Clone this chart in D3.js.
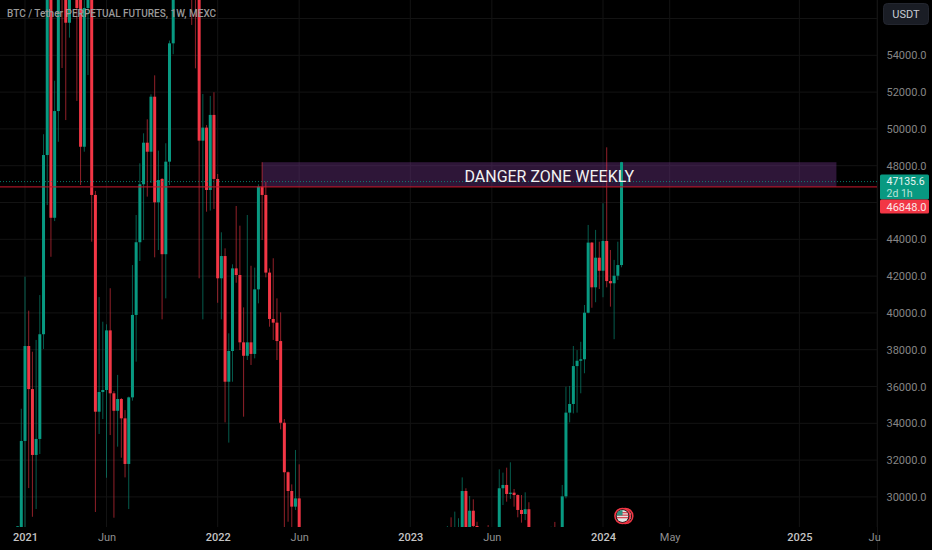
<!DOCTYPE html>
<html><head><meta charset="utf-8">
<script src="https://cdn.jsdelivr.net/npm/d3@7/dist/d3.min.js"></script>
<style>html,body{margin:0;padding:0;background:#000;overflow:hidden}svg{display:block}text{font-family:Roboto,Inter,sans-serif}</style>
</head><body>
<script>
const titleText = "BTC / Tether PERPETUAL FUTURES, 1W, MEXC";
const currency = "USDT";
const weeks = [-2,-1,0,1,2,3,4,5,6,7,8,9,10,11,12,13,14,15,16,17,18,19,20,21,22,23,24,25,26,27,28,29,30,31,32,33,34,35,36,37,38,39,40,
 45,46,47,48,49,50,51,52,53,54,55,56,57,58,59,60,61,62,63,64,65,66,67,68,69,70,71,72,73,74,
 114,115,116,117,118,119,120,121,122,125,128,129,130,131,132,133,134,135,136,142,143,
 145,146,147,148,149,150,151,152,153,154,155,156,157,158,159,160,161];
const opens = [28200,28000,33040,38200,35860,32280,33150,38840,48580,58000,45170,50970,59500,57300,55770,60000,58600,58000,49030,56570,59000,46410,34630,35700,35810,39050,35630,34680,35320,34270,31790,35410,39890,43840,46990,49250,48760,51750,46010,47280,43190,48220,54650,
 63000,58500,57500,49360,50070,46680,50760,47280,41880,43090,36260,37930,42420,42060,38400,37670,38400,37770,41280,46860,46410,42190,39670,39470,38470,34030,31340,30320,29470,29920,
 27000,28100,27000,27500,27800,30320,27700,29250,28420,27600,27000,30470,30650,30160,30230,30100,29290,29070,29330,27000,27800,
 27500,30030,34580,35050,37110,37400,37480,40010,43820,41390,43000,42290,43910,41730,41610,42020,42600];
const highs = [28420,34790,41970,40120,37890,38530,40970,49710,60000,58900,52620,61500,60500,58500,61800,62000,59500,59000,57500,60000,60500,46630,40860,39520,39380,41340,35750,36630,35370,34720,35450,42600,45320,48130,49760,50520,51880,52910,48820,47330,49220,54800,62000,
 64000,60000,58500,51900,50210,51790,51990,47550,44380,43510,38890,42640,45810,44740,40300,45320,42560,42460,46990,48190,47130,42420,42970,40790,40030,34230,31380,30680,32550,31770,
 28420,28890,29200,28840,31060,30470,30050,29870,28650,28470,31500,31320,31590,31880,30430,30140,30100,30250,29710,28380,28640,
 30650,35990,36030,38200,37980,38430,40430,44780,43850,44510,43870,45960,49000,43420,42880,43870,48210];
const lows = [27000,27500,28300,30480,28920,29340,32330,38040,45860,43050,44990,49300,53310,50480,54960,57400,51520,46950,48760,52930,43870,29180,33420,34230,31040,33360,28870,32730,32130,31060,29340,35230,37350,42820,43960,46320,47060,43020,43420,39650,40790,46950,54060,
 55650,53290,41880,39650,45500,45560,45650,40550,39650,34050,32950,36260,41640,37980,34360,37440,37170,37530,40520,43960,41930,39250,38530,37440,33670,28300,28650,28300,29290,25500,
 26500,26500,26500,27000,26600,27000,27000,27200,27000,26500,26500,29560,29740,29890,29470,28890,28600,28740,26500,26800,26800,
 27000,29920,34050,34540,34580,35630,36720,39980,40280,40580,41300,40850,41390,40340,38570,41790,42480];
const closes = [28400,33040,38200,35860,32280,33150,38840,48580,58000,45170,50970,59500,57300,55770,60000,58000,56570,49030,56570,59000,46410,34630,35700,35810,39050,35630,34680,35320,34270,31790,35410,39890,43840,46990,49250,48760,51750,46010,47220,43190,48220,54650,60000,
 58500,57500,49360,50070,46680,50760,47280,41880,43090,36260,37930,42420,42060,38400,37670,38400,37770,41280,46860,46410,42190,39670,39470,38470,34030,31340,30320,29470,29920,26000,
 28100,27000,28000,28200,30320,27700,29250,28420,27900,27000,30470,30650,30160,30230,30100,29290,29070,29330,27000,27800,27300,
 30030,34580,35050,37110,37400,37480,40010,43820,41390,43000,42290,43910,41730,41610,42020,42600,48190];

const gridPrices = [28000,30000,32000,34000,36000,38000,40000,42000,44000,46000,48000,50000,52000,54000,56000];
const priceTicks = [30000,32000,34000,36000,38000,40000,42000,44000,48000,50000,52000,54000];
const timeTickWeeks = [0,22,52,74,104,126,156,174,209,230];
const timeTickLabels = ["2021","Jun","2022","Jun","2023","Jun","2024","May","2025","Jun"];
const yearLabels = ["2021","2022","2023","2024","2025"];
const lastPrice = 47135.6, lastLabel = "47135.6", countdown = "2d 1h";
const linePrice = 46848, lineLabel = "46848.0";
const bandText = "DANGER ZONE WEEKLY";
const bandTop = 48190, bandBottom = 46848, bandStart = 64, bandEnd = 219;
const eventWeeks = [162,161];

const W = 932, H = 550, plotR = 877.5, plotB = 527;
const UP = "#089981", DOWN = "#F23645";
const x = d3.scaleLinear().domain([0,156]).range([25,603]);
const y = d3.scaleLinear().domain([30000,48000]).range([496.9,165.7]);

const svg = d3.select("body").append("svg").attr("width",W).attr("height",H);
svg.append("rect").attr("width",W).attr("height",H).attr("fill","#000");
const defs = svg.append("defs");
defs.append("clipPath").attr("id","plot").append("rect").attr("width",plotR).attr("height",plotB);

// grid
const grid = svg.append("g").attr("clip-path","url(#plot)");
grid.selectAll("line.h").data(gridPrices).join("line").attr("class","h")
  .attr("x1",0).attr("x2",plotR).attr("y1",d=>y(d)).attr("y2",d=>y(d)).attr("stroke","#131313");
grid.selectAll("line.v").data(timeTickWeeks).join("line").attr("class","v")
  .attr("x1",d=>x(d)).attr("x2",d=>x(d)).attr("y1",0).attr("y2",plotB).attr("stroke","#131313");

const plot = svg.append("g").attr("clip-path","url(#plot)");

// danger band
plot.append("rect").attr("x",x(bandStart)).attr("width",x(bandEnd)-x(bandStart))
  .attr("y",y(bandTop)).attr("height",y(bandBottom)-y(bandTop)).attr("fill","#6e3486").attr("fill-opacity",0.42);

// candles
const rows = weeks.map((w,i)=>({w,o:opens[i],h:highs[i],l:lows[i],c:closes[i]}));
const colour = d=>d.c>=d.o?UP:DOWN;
plot.selectAll("line.wick").data(rows).join("line").attr("class","wick")
  .attr("x1",d=>x(d.w)).attr("x2",d=>x(d.w)).attr("y1",d=>y(d.h)).attr("y2",d=>y(d.l))
  .attr("stroke",colour).attr("stroke-width",1).attr("stroke-opacity",0.6);
plot.selectAll("rect.body").data(rows).join("rect").attr("class","body")
  .attr("x",d=>x(d.w)-1.5).attr("width",3)
  .attr("y",d=>y(Math.max(d.o,d.c))).attr("height",d=>Math.max(1,Math.abs(y(d.o)-y(d.c))))
  .attr("fill",colour);

// price lines
plot.append("line").attr("x1",0).attr("x2",plotR).attr("y1",y(linePrice)).attr("y2",y(linePrice))
  .attr("stroke","#c2182c").attr("stroke-opacity",0.85).attr("stroke-width",1.3);
plot.append("line").attr("x1",0).attr("x2",plotR).attr("y1",y(lastPrice)).attr("y2",y(lastPrice))
  .attr("stroke",UP).attr("stroke-dasharray","1 2").attr("stroke-opacity",0.8);

// band text
plot.append("text").attr("x",x((bandStart+bandEnd)/2)).attr("y",y((bandTop+bandBottom)/2)+7.5)
  .attr("text-anchor","middle").attr("fill","#f2f2f2").attr("font-size",16).text(bandText);

// economic event markers
const ev = svg.append("g").selectAll("g").data(eventWeeks).join("g")
  .attr("transform",d=>`translate(${x(d)+ (d===161?1:0)},516)`);
defs.append("clipPath").attr("id","flagclip").append("circle").attr("r",6);
ev.append("circle").attr("r",7.6).attr("fill","#111").attr("stroke",DOWN).attr("stroke-width",1.5);
const flag = ev.append("g").attr("clip-path","url(#flagclip)");
flag.append("rect").attr("x",-6).attr("y",-6).attr("width",12).attr("height",12).attr("fill","#e4e4e4");
flag.selectAll("rect.s").data([-4,-1.5,1]).join("rect").attr("class","s").attr("x",-6).attr("y",d=>d).attr("width",12).attr("height",1.3).attr("fill","#d84a55");
flag.append("rect").attr("x",-6).attr("y",-6).attr("width",6).attr("height",5.5).attr("fill","#2f8f7e");

// y axis
const yAxis = d3.axisRight(y).tickValues(priceTicks).tickSize(0).tickPadding(0).tickFormat(d3.format(".1f"));
const yg = svg.append("g").attr("transform",`translate(886.5,0)`).call(yAxis);
yg.select(".domain").remove();
yg.selectAll("text").attr("fill","#858585").attr("font-size",11).attr("font-family","Roboto,Inter,sans-serif");
svg.append("line").attr("x1",plotR).attr("x2",plotR).attr("y1",0).attr("y2",H).attr("stroke","#131313");

// x axis
const xAxis = d3.axisBottom(x).tickValues(timeTickWeeks).tickSize(0).tickPadding(0).tickFormat((d,i)=>timeTickLabels[i]);
defs.append("clipPath").attr("id","xclip").append("rect").attr("width",880.5).attr("height",H);
const xg = svg.append("g").attr("clip-path","url(#xclip)").append("g").attr("transform",`translate(0,533)`).call(xAxis);
xg.select(".domain").remove();
xg.selectAll("text").attr("font-size",11).attr("font-family","Roboto,Inter,sans-serif")
  .attr("fill",(d,i)=>yearLabels.includes(timeTickLabels[i])?"#c4c4c4":"#8f8f8f")
  .attr("font-weight",(d,i)=>yearLabels.includes(timeTickLabels[i])?500:400);

// title
svg.append("text").attr("x",7).attr("y",16.8).attr("fill","#9a9a9a").attr("font-size",10).attr("font-weight",500).text(titleText);

// currency button
svg.append("rect").attr("x",883.5).attr("y",3.5).attr("width",45).attr("height",21).attr("rx",4)
  .attr("fill","#1a1d25").attr("stroke","#23262f");
svg.append("text").attr("x",906).attr("y",18).attr("text-anchor","middle").attr("fill","#c9ccd4").attr("font-size",11).text(currency);

// price tags
svg.append("rect").attr("x",880).attr("y",174.5).attr("width",49).attr("height",25).attr("fill",UP).attr("rx",1.5);
svg.append("text").attr("x",886.5).attr("y",184.7).attr("fill","#e8f5f2").attr("font-size",10.5).text(lastLabel);
svg.append("text").attr("x",886.5).attr("y",197).attr("fill","#b8e3da").attr("font-size",10.5).text(countdown);
svg.append("rect").attr("x",880).attr("y",199.5).attr("width",49).attr("height",14).attr("fill",DOWN).attr("rx",1.5);
svg.append("text").attr("x",886.5).attr("y",210.5).attr("fill","#fbe5e7").attr("font-size",11).text(lineLabel);
</script>
</body></html>
